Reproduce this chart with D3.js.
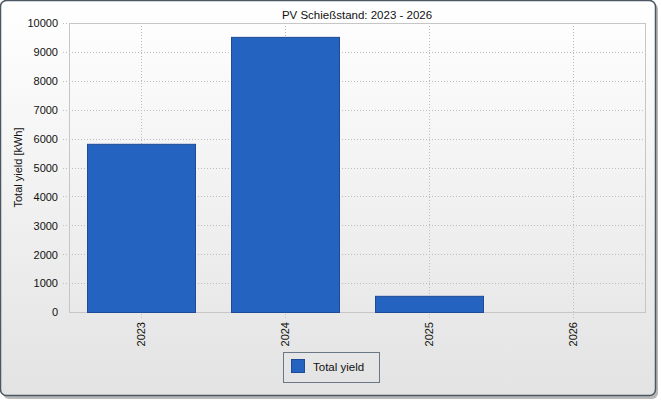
<!DOCTYPE html>
<html><head><meta charset="utf-8">
<script src="https://cdn.jsdelivr.net/npm/d3@7"></script>
<style>html,body{margin:0;padding:0;background:#fff;}svg{display:block;}</style>
</head><body>
<script>
const categories = ["2023", "2024", "2025", "2026"];
const totalYield = [5820, 9520, 560, 0];
const yTicks = [0, 1000, 2000, 3000, 4000, 5000, 6000, 7000, 8000, 9000, 10000];
const title = "PV Schießstand: 2023 - 2026";
const yLabel = "Total yield [kWh]";
const seriesName = "Total yield";

const W = 662, H = 400;
const m = {left: 69, right: 645, top: 23, bottom: 312};
const font = "'Liberation Sans', Arial, sans-serif";

const svg = d3.select("body").append("svg").attr("width", W).attr("height", H);
const defs = svg.append("defs");
const g1 = defs.append("linearGradient").attr("id", "bg").attr("x1", 0).attr("y1", 0).attr("x2", 0).attr("y2", 1);
g1.append("stop").attr("offset", "0%").attr("stop-color", "#ffffff");
g1.append("stop").attr("offset", "100%").attr("stop-color", "#e3e3e3");

// shadow
svg.append("rect").attr("x", 3).attr("y", 3).attr("width", 655).attr("height", 396).attr("rx", 6)
  .attr("fill", "#b8b8b8");
svg.append("rect").attr("x", 0.5).attr("y", 0.5).attr("width", 655).attr("height", 395).attr("rx", 6)
  .attr("fill", "url(#bg)").attr("stroke", "#4b5763").attr("stroke-width", 1.5);

const x = d3.scaleBand().domain(categories).range([m.left, m.right]).paddingInner(0.25).paddingOuter(0.125);
const xc = d3.scalePoint().domain(categories).range([m.left, m.right]).padding(0.5);
const y = d3.scaleLinear().domain([0, 10000]).range([m.bottom, m.top]);

// grid
const grid = svg.append("g").attr("stroke", "#bdbdbd").attr("stroke-dasharray", "1,2").attr("stroke-width", 1);
grid.selectAll("line.h").data(yTicks.filter(d => d > 0)).join("line")
  .attr("x1", m.left - 6).attr("x2", m.right).attr("y1", d => Math.round(y(d)) + 0.5).attr("y2", d => Math.round(y(d)) + 0.5);
grid.selectAll("line.v").data(categories).join("line")
  .attr("x1", d => Math.round(xc(d)) + 0.5).attr("x2", d => Math.round(xc(d)) + 0.5)
  .attr("y1", m.top).attr("y2", m.bottom + 6);

// plot border
svg.append("rect").attr("x", m.left + 0.5).attr("y", m.top + 0.5).attr("width", m.right - m.left).attr("height", m.bottom - m.top)
  .attr("fill", "none").attr("stroke", "#c6c6c6");

// bars
svg.append("g").selectAll("rect").data(categories.map((c, i) => ({c, v: totalYield[i]})).filter(d => d.v > 0)).join("rect")
  .attr("x", d => x(d.c) + 0.5).attr("width", x.bandwidth())
  .attr("y", d => y(d.v) + 0.5).attr("height", d => y(0) - y(d.v))
  .attr("fill", "#2563c0").attr("stroke", "#1d4b95").attr("stroke-width", 1);

// y axis
const yAxis = d3.axisLeft(y).tickValues(yTicks).tickSize(0).tickPadding(0).tickFormat(d3.format("d"));
const ya = svg.append("g").attr("transform", `translate(${m.left - 11},0)`).call(yAxis);
ya.select(".domain").remove();
ya.selectAll("text").attr("font-family", font).attr("font-size", 11).attr("fill", "#111").attr("dy", "0.35em");

// x axis
const xAxis = d3.axisBottom(xc).tickSize(0).tickPadding(0);
const xa = svg.append("g").attr("transform", `translate(0,${m.bottom})`).call(xAxis);
xa.select(".domain").remove();
xa.selectAll("text").attr("font-family", font).attr("font-size", 11).attr("fill", "#111")
  .attr("transform", "rotate(-90)").attr("text-anchor", "end").attr("x", -10).attr("y", 0).attr("dy", "0.35em");

// title
svg.append("text").attr("x", (m.left + m.right) / 2).attr("y", 19).attr("text-anchor", "middle")
  .attr("font-family", font).attr("font-size", 11.5).attr("fill", "#111").text(title);

// y label
svg.append("text").attr("transform", `translate(22,${(m.top + m.bottom) / 2}) rotate(-90)`).attr("text-anchor", "middle")
  .attr("font-family", font).attr("font-size", 11).attr("fill", "#111").text(yLabel);

// legend
const lg = svg.append("g");
lg.append("rect").attr("x", 283.5).attr("y", 352.5).attr("width", 96).attr("height", 30)
  .attr("fill", "none").attr("stroke", "#6a7785");
lg.append("rect").attr("x", 291.5).attr("y", 359.5).attr("width", 13).attr("height", 13)
  .attr("fill", "#2563c0").attr("stroke", "#1d4b95");
lg.append("text").attr("x", 313).attr("y", 371).attr("font-family", font).attr("font-size", 11.5).attr("fill", "#111").text(seriesName);
</script>
</body></html>
